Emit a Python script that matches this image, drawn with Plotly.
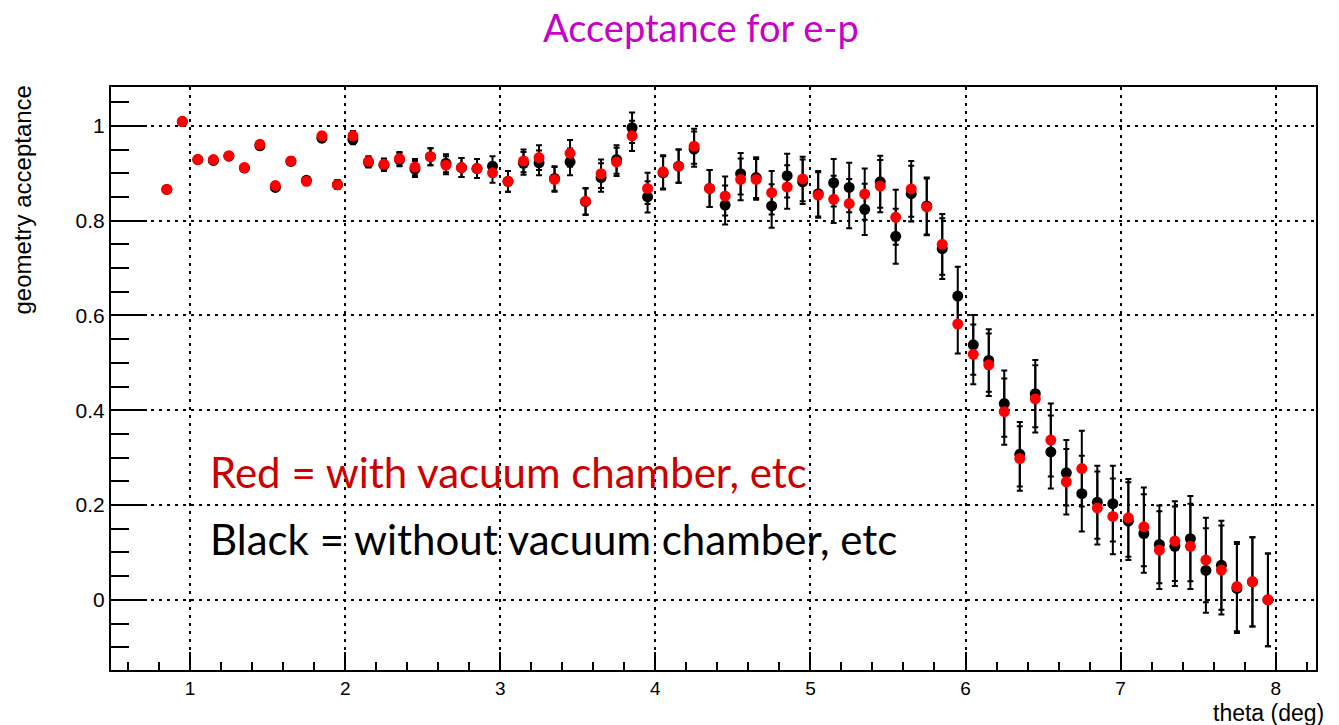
import plotly.graph_objects as go

theta = [0.85, 0.95, 1.05, 1.15, 1.25, 1.35, 1.45, 1.55, 1.65, 1.75,
         1.85, 1.95, 2.05, 2.15, 2.25, 2.35, 2.45, 2.55, 2.65, 2.75,
         2.85, 2.95, 3.05, 3.15, 3.25, 3.35, 3.45, 3.55, 3.65, 3.75,
         3.85, 3.95, 4.05, 4.15, 4.25, 4.35, 4.45, 4.55, 4.65, 4.75,
         4.85, 4.95, 5.05, 5.15, 5.25, 5.35, 5.45, 5.55, 5.65, 5.75,
         5.85, 5.95, 6.05, 6.15, 6.25, 6.35, 6.45, 6.55, 6.65, 6.75,
         6.85, 6.95, 7.05, 7.15, 7.25, 7.35, 7.45, 7.55, 7.65, 7.75,
         7.85, 7.95]

acc_black = [0.866, 1.009, 0.929, 0.927, 0.936, 0.911, 0.958, 0.870, 0.925, 0.885,
             0.974, 0.876, 0.971, 0.923, 0.917, 0.929, 0.909, 0.935, 0.921, 0.912,
             0.910, 0.915, 0.883, 0.921, 0.922, 0.889, 0.924, 0.840, 0.891, 0.929,
             0.996, 0.850, 0.901, 0.915, 0.951, 0.868, 0.833, 0.899, 0.891, 0.831,
             0.895, 0.882, 0.857, 0.880, 0.870, 0.824, 0.882, 0.767, 0.857, 0.831,
             0.741, 0.641, 0.538, 0.505, 0.414, 0.307, 0.435, 0.312, 0.268, 0.224,
             0.206, 0.203, 0.166, 0.140, 0.117, 0.113, 0.129, 0.062, 0.073, 0.024,
             0.038, 0.000]

acc_red = [0.866, 1.009, 0.929, 0.929, 0.937, 0.912, 0.961, 0.874, 0.926, 0.883,
           0.979, 0.876, 0.979, 0.925, 0.919, 0.931, 0.913, 0.935, 0.917, 0.912,
           0.910, 0.901, 0.883, 0.926, 0.933, 0.887, 0.942, 0.841, 0.899, 0.924,
           0.979, 0.868, 0.903, 0.915, 0.957, 0.868, 0.852, 0.887, 0.887, 0.859,
           0.871, 0.888, 0.854, 0.845, 0.836, 0.856, 0.873, 0.807, 0.867, 0.829,
           0.750, 0.582, 0.518, 0.496, 0.397, 0.298, 0.424, 0.337, 0.249, 0.277,
           0.194, 0.176, 0.173, 0.154, 0.105, 0.124, 0.113, 0.084, 0.063, 0.028,
           0.038, 0.000]

acc_err = [0.004, 0.004, 0.005, 0.005, 0.005, 0.006, 0.006, 0.007, 0.007, 0.007,
           0.008, 0.009, 0.010, 0.011, 0.012, 0.014, 0.017, 0.018, 0.019, 0.020,
           0.020, 0.021, 0.022, 0.024, 0.026, 0.026, 0.028, 0.028, 0.030, 0.030,
           0.032, 0.033, 0.035, 0.035, 0.037, 0.039, 0.041, 0.044, 0.043, 0.046,
           0.046, 0.047, 0.048, 0.050, 0.052, 0.054, 0.055, 0.058, 0.059, 0.060,
           0.064, 0.062, 0.063, 0.066, 0.070, 0.068, 0.071, 0.077, 0.069, 0.080,
           0.077, 0.080, 0.082, 0.083, 0.082, 0.084, 0.090, 0.089, 0.094, 0.094,
           0.094, 0.098]

x_ticks = [1, 2, 3, 4, 5, 6, 7, 8]
y_ticks = [0, 0.2, 0.4, 0.6, 0.8, 1.0]
y_tick_text = ["0", "0.2", "0.4", "0.6", "0.8", "1"]

fig = go.Figure()
fig.add_trace(go.Scatter(
    x=theta, y=acc_black, mode="markers",
    marker=dict(color="black", size=11),
    error_y=dict(type="data", array=acc_err, color="black", thickness=2, width=3),
    showlegend=False))
fig.add_trace(go.Scatter(
    x=theta, y=acc_red, mode="markers",
    marker=dict(color="#ff0000", size=11),
    error_y=dict(type="data", array=acc_err, color="black", thickness=2, width=3),
    showlegend=False))

helv = "Liberation Sans, Arial, sans-serif"
fig.update_layout(
    width=1339, height=725,
    margin=dict(l=111, r=23, t=87, b=55),
    paper_bgcolor="white", plot_bgcolor="white",
    xaxis=dict(range=[0.49, 8.26], tickvals=x_ticks, ticks="inside", ticklen=18,
               tickwidth=2, tickcolor="black", showline=True, linewidth=2,
               linecolor="black", mirror=True, showgrid=True, gridcolor="black",
               gridwidth=2, griddash="3px,5px", zeroline=False,
               tickfont=dict(family=helv, size=19, color="black"),
               minor=dict(dtick=0.2, tick0=0, ticks="inside", ticklen=8,
                          tickwidth=2, tickcolor="black", showgrid=False)),
    yaxis=dict(range=[-0.148, 1.082], tickvals=y_ticks, ticktext=y_tick_text,
               ticks="inside", ticklen=36, tickwidth=2, tickcolor="black",
               showline=True, linewidth=2, linecolor="black", mirror=True,
               showgrid=True, gridcolor="black", gridwidth=2, griddash="3px,5px",
               zeroline=False, tickfont=dict(family=helv, size=21, color="black"),
               minor=dict(dtick=0.05, tick0=0, ticks="inside", ticklen=18,
                          tickwidth=2, tickcolor="black", showgrid=False)),
)

fancy = "Lato, 'Open Sans', sans-serif"
fig.add_annotation(text="Acceptance for e-p", xref="paper", yref="paper",
                   x=0.4896, y=1.0 + 60 / 583, xanchor="center", yanchor="middle",
                   showarrow=False, font=dict(family=fancy, size=38, color="#c800c8"))
fig.add_annotation(text="Red = with vacuum chamber, etc", xref="paper", yref="paper",
                   x=0.0805, y=0.339, xanchor="left", yanchor="middle",
                   showarrow=False, font=dict(family=fancy, size=42, color="#cc0000"))
fig.add_annotation(text="Black = without vacuum chamber, etc", xref="paper", yref="paper",
                   x=0.0805, y=0.225, xanchor="left", yanchor="middle",
                   showarrow=False, font=dict(family=fancy, size=42, color="black"))
fig.add_annotation(text="theta (deg)", xref="paper", yref="paper",
                   x=(1326 - 111) / 1205, y=-(713 - 670) / 583, xanchor="right",
                   yanchor="middle", showarrow=False,
                   font=dict(family=helv, size=23, color="black"))
fig.add_annotation(text="geometry acceptance", xref="paper", yref="paper",
                   x=(22 - 111) / 1205, y=(670 - 84) / 583, xanchor="center",
                   yanchor="top", textangle=-90, showarrow=False,
                   font=dict(family=helv, size=24, color="black"))

fig.write_html("out.html")
